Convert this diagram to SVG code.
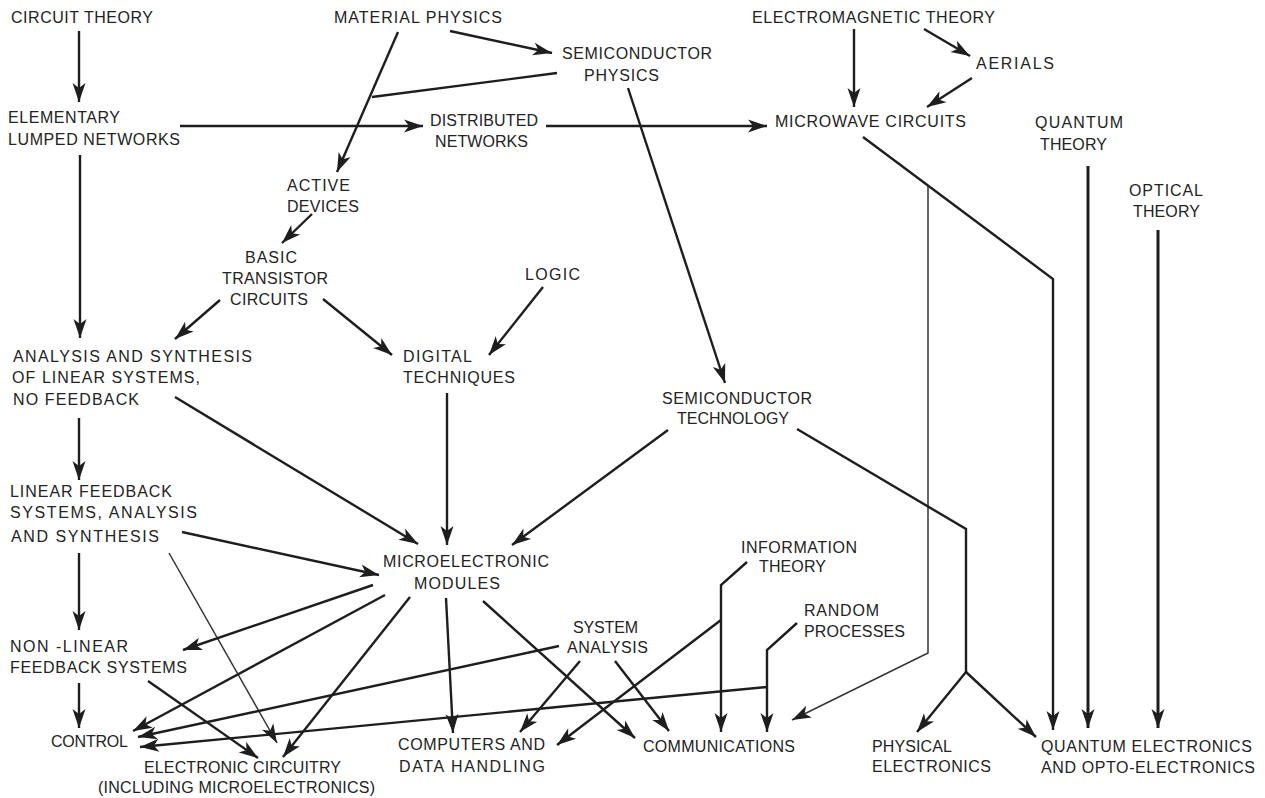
<svg xmlns="http://www.w3.org/2000/svg" width="1265" height="798" viewBox="0 0 1265 798">
<defs>
<style>
text{font-family:"Liberation Sans",Arial,sans-serif;font-size:16px;fill:#232323;}
.c{fill:none;stroke:#1e1e1e;stroke-width:2.4;stroke-linejoin:miter;}
.t{stroke-width:1.5;stroke:#333;}
.w{stroke-width:3;}
.a{marker-end:url(#ah);}
</style>
<marker id="ah" markerUnits="userSpaceOnUse" markerWidth="24" markerHeight="16" viewBox="-20 -8 22 16" refX="0" refY="0" orient="auto">
<path d="M0,0 L-19,-6.5 L-14,0 L-19,6.5 Z" fill="#1e1e1e"/>
</marker>
</defs>
<rect width="1265" height="798" fill="#fff"/>

<g id="connectors">
<path class="c a" d="M79,31 L79,102"/>
<path class="c a" d="M180,126 L423,126"/>
<path class="c a" d="M450,31 L552,53"/>
<path class="c a" d="M398,32 L337,172"/>
<path class="c" d="M557,73 L372,97"/>
<path class="c a" d="M546,126 L767,126"/>
<path class="c a" d="M854,29 L854,107"/>
<path class="c a" d="M924,29 L970,56"/>
<path class="c a" d="M972,78 L927,107"/>
<path class="c a" d="M628,88 L725,383"/>
<path class="c a" d="M863,137 L1053,279 L1053,730"/>
<path class="c t a" d="M928,186 L928,653 L792,720"/>
<path class="c w a" d="M1088,166 L1088,728"/>
<path class="c w a" d="M1158,230 L1158,728"/>
<path class="c a" d="M80,155 L80,338"/>
<path class="c a" d="M312,214 L282,243"/>
<path class="c a" d="M220,300 L175,339"/>
<path class="c a" d="M323,299 L392,355"/>
<path class="c a" d="M543,287 L489,355"/>
<path class="c a" d="M79,418 L79,480"/>
<path class="c a" d="M175,397 L418,544"/>
<path class="c a" d="M447,393 L447,545"/>
<path class="c a" d="M668,430 L512,545"/>
<path class="c" d="M797,429 L966,529 L966,672"/>
<path class="c a" d="M966,672 L917,732"/>
<path class="c a" d="M966,672 L1036,737"/>
<path class="c a" d="M182,532 L379,575"/>
<path class="c t a" d="M169,553 L277,743"/>
<path class="c a" d="M79,553 L79,630"/>
<path class="c a" d="M79,683 L79,728"/>
<path class="c a" d="M148,681 L258,758"/>
<path class="c a" d="M373,585 L183,650"/>
<path class="c a" d="M385,595 L133,731"/>
<path class="c a" d="M410,597 L283,757"/>
<path class="c a" d="M446,598 L453,733"/>
<path class="c a" d="M483,601 L635,738"/>
<path class="c a" d="M559,646 L138,737"/>
<path class="c a" d="M580,661 L520,732"/>
<path class="c a" d="M615,661 L669,731"/>
<path class="c a" d="M747,562 L721,585 L721,732"/>
<path class="c a" d="M721,620 L557,745"/>
<path class="c a" d="M797,623 L767,650 L767,732"/>
<path class="c a" d="M767,687 L140,747"/>
</g>

<g id="circuit-theory"><text x="11" y="23" textLength="142" lengthAdjust="spacing">CIRCUIT THEORY</text></g>
<g id="material-physics"><text x="334" y="23" textLength="168" lengthAdjust="spacing">MATERIAL PHYSICS</text></g>
<g id="electromagnetic-theory"><text x="752" y="23" textLength="243" lengthAdjust="spacing">ELECTROMAGNETIC THEORY</text></g>
<g id="semiconductor-physics"><text x="562" y="59" textLength="150" lengthAdjust="spacing">SEMICONDUCTOR</text><text x="584" y="81" textLength="75" lengthAdjust="spacing">PHYSICS</text></g>
<g id="aerials"><text x="976" y="69" textLength="78" lengthAdjust="spacing">AERIALS</text></g>
<g id="elementary-lumped-networks"><text x="8" y="123" textLength="112" lengthAdjust="spacing">ELEMENTARY</text><text x="8" y="145" textLength="172" lengthAdjust="spacing">LUMPED NETWORKS</text></g>
<g id="distributed-networks"><text x="430" y="126" textLength="108" lengthAdjust="spacing">DISTRIBUTED</text><text x="435" y="147" textLength="93" lengthAdjust="spacing">NETWORKS</text></g>
<g id="microwave-circuits"><text x="775" y="127" textLength="191" lengthAdjust="spacing">MICROWAVE CIRCUITS</text></g>
<g id="quantum-theory"><text x="1035" y="128" textLength="88" lengthAdjust="spacing">QUANTUM</text><text x="1040" y="150" textLength="67" lengthAdjust="spacing">THEORY</text></g>
<g id="optical-theory"><text x="1129" y="196" textLength="74" lengthAdjust="spacing">OPTICAL</text><text x="1133" y="217" textLength="67" lengthAdjust="spacing">THEORY</text></g>
<g id="active-devices"><text x="287" y="191" textLength="63" lengthAdjust="spacing">ACTIVE</text><text x="287" y="212" textLength="72" lengthAdjust="spacing">DEVICES</text></g>
<g id="basic-transistor-circuits"><text x="245" y="263" textLength="52" lengthAdjust="spacing">BASIC</text><text x="222" y="284" textLength="106" lengthAdjust="spacing">TRANSISTOR</text><text x="230" y="305" textLength="78" lengthAdjust="spacing">CIRCUITS</text></g>
<g id="logic"><text x="525" y="280" textLength="55" lengthAdjust="spacing">LOGIC</text></g>
<g id="analysis-synthesis-linear"><text x="13" y="362" textLength="239" lengthAdjust="spacing">ANALYSIS AND  SYNTHESIS</text><text x="12" y="383" textLength="188" lengthAdjust="spacing">OF LINEAR SYSTEMS,</text><text x="13" y="405" textLength="126" lengthAdjust="spacing">NO FEEDBACK</text></g>
<g id="digital-techniques"><text x="403" y="362" textLength="69" lengthAdjust="spacing">DIGITAL</text><text x="403" y="383" textLength="112" lengthAdjust="spacing">TECHNIQUES</text></g>
<g id="semiconductor-technology"><text x="662" y="404" textLength="150" lengthAdjust="spacing">SEMICONDUCTOR</text><text x="677" y="424" textLength="112" lengthAdjust="spacing">TECHNOLOGY</text></g>
<g id="linear-feedback-systems"><text x="10" y="497" textLength="162" lengthAdjust="spacing">LINEAR FEEDBACK</text><text x="10" y="518" textLength="187" lengthAdjust="spacing">SYSTEMS, ANALYSIS</text><text x="11" y="542" textLength="148" lengthAdjust="spacing">AND SYNTHESIS</text></g>
<g id="microelectronic-modules"><text x="383" y="567" textLength="166" lengthAdjust="spacing">MICROELECTRONIC</text><text x="414" y="589" textLength="86" lengthAdjust="spacing">MODULES</text></g>
<g id="information-theory"><text x="741" y="553" textLength="116" lengthAdjust="spacing">INFORMATION</text><text x="759" y="572" textLength="67" lengthAdjust="spacing">THEORY</text></g>
<g id="random-processes"><text x="804" y="616" textLength="75" lengthAdjust="spacing">RANDOM</text><text x="804" y="637" textLength="101" lengthAdjust="spacing">PROCESSES</text></g>
<g id="system-analysis"><text x="573" y="633" textLength="65" lengthAdjust="spacing">SYSTEM</text><text x="567" y="653" textLength="81" lengthAdjust="spacing">ANALYSIS</text></g>
<g id="non-linear-feedback-systems"><text x="10" y="652" textLength="118" lengthAdjust="spacing">NON -LINEAR</text><text x="10" y="673" textLength="177" lengthAdjust="spacing">FEEDBACK SYSTEMS</text></g>
<g id="control"><text x="51" y="747" textLength="77" lengthAdjust="spacing">CONTROL</text></g>
<g id="computers-data-handling"><text x="398" y="750" textLength="147" lengthAdjust="spacing">COMPUTERS AND</text><text x="399" y="772" textLength="146" lengthAdjust="spacing">DATA HANDLING</text></g>
<g id="communications"><text x="643" y="752" textLength="152" lengthAdjust="spacing">COMMUNICATIONS</text></g>
<g id="electronic-circuitry"><text x="144" y="773" textLength="197" lengthAdjust="spacing">ELECTRONIC CIRCUITRY</text><text x="98" y="793" textLength="277" lengthAdjust="spacing">(INCLUDING MICROELECTRONICS)</text></g>
<g id="physical-electronics"><text x="872" y="752" textLength="80" lengthAdjust="spacing">PHYSICAL</text><text x="872" y="772" textLength="119" lengthAdjust="spacing">ELECTRONICS</text></g>
<g id="quantum-electronics"><text x="1041" y="752" textLength="211" lengthAdjust="spacing">QUANTUM ELECTRONICS</text><text x="1041" y="773" textLength="214" lengthAdjust="spacing">AND OPTO-ELECTRONICS</text></g>
</svg>
